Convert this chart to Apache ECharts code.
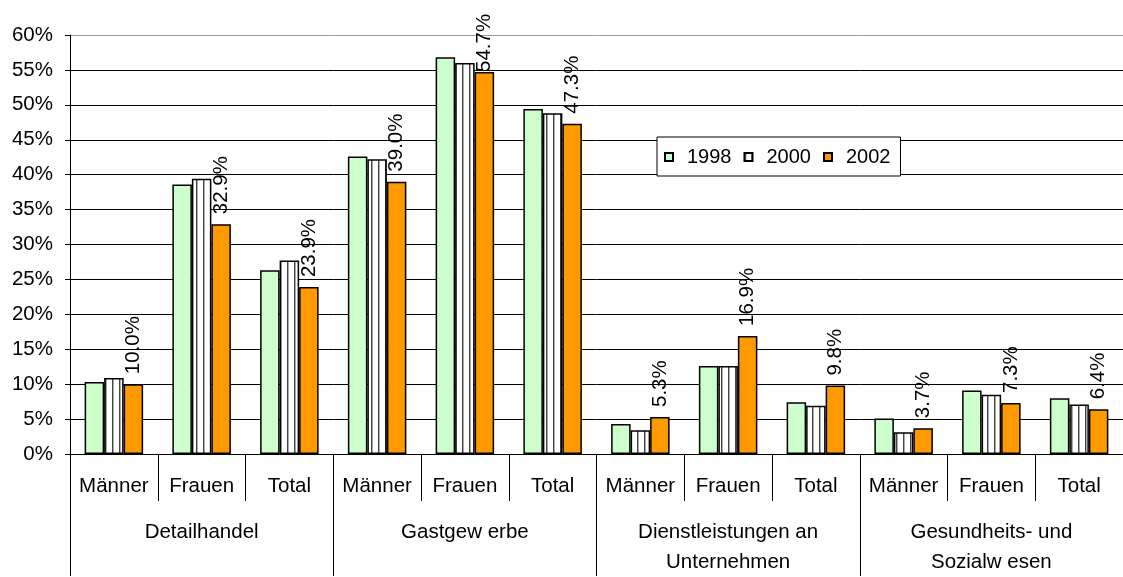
<!DOCTYPE html>
<html>
<head>
<meta charset="utf-8">
<script src="https://cdn.jsdelivr.net/npm/echarts@6/dist/echarts.min.js"></script>
<style>html,body{margin:0;padding:0;background:#fff;}#chart{width:1123px;height:577px;}</style>
</head>
<body>
<div id="chart"></div>
<script>
const subCategories = ['Männer','Frauen','Total','Männer','Frauen','Total','Männer','Frauen','Total','Männer','Frauen','Total'];
const groups = ['Detailhandel','Gastgew erbe','Dienstleistungen an\nUnternehmen','Gesundheits- und\nSozialw esen'];
const seriesNames = ['1998','2000','2002'];
const values1998 = [10.3, 38.6, 26.3, 42.6, 56.8, 49.4, 4.3, 12.6, 7.4, 5.1, 9.1, 8.0];
const values2000 = [10.9, 39.4, 27.7, 42.2, 56.0, 48.8, 3.4, 12.6, 6.9, 3.1, 8.5, 7.1];
const values2002 = [10.0, 32.9, 23.9, 39.0, 54.7, 47.3, 5.3, 16.9, 9.8, 3.7, 7.3, 6.4];
const yTicks = {min: 0, max: 60, interval: 5};

const FONT = '"Liberation Sans", Arial, sans-serif';

const pc = document.createElement('canvas');
pc.width = 7; pc.height = 7;
const pctx = pc.getContext('2d');
pctx.fillStyle = '#ffffff'; pctx.fillRect(0, 0, 7, 7);
pctx.fillStyle = '#444444'; pctx.fillRect(0, 0, 1, 7);
pctx.fillStyle = '#aaaaaa'; pctx.fillRect(1, 0, 1, 7);
const stripe = {image: pc, repeat: 'repeat'};

const splitColors = [];
for (let i = 0; i < 12; i++) splitColors.push('#000');
splitColors.push('#999');

const chart = echarts.init(document.getElementById('chart'), null, {renderer: 'canvas'});

const baseItem = {borderColor: '#000', borderWidth: 1.5};

const data2002 = values2002.map((v, i) => (v > 50 ? {value: v, label: {distance: 0}} : v));

chart.setOption({
  animation: false,
  backgroundColor: '#fff',
  textStyle: {fontFamily: FONT},
  grid: {left: 70, top: 35, width: 1067, height: 420, containLabel: false},
  legend: {
    data: seriesNames,
    icon: 'rect',
    left: 657, top: 137,
    orient: 'horizontal',
    itemWidth: 8, itemHeight: 8, itemGap: 12,
    padding: [10, 10, 9, 7],
    backgroundColor: '#fff',
    borderColor: '#000', borderWidth: 1,
    textStyle: {fontSize: 20, color: '#000', fontFamily: FONT, padding: [0, 0, 0, 9]}
  },
  xAxis: [
    {
      type: 'category', data: subCategories, position: 'bottom',
      axisLine: {show: true, lineStyle: {color: '#000', width: 1}},
      axisTick: {show: true, interval: 0, length: 47, alignWithLabel: false, lineStyle: {color: '#000'}},
      axisLabel: {interval: 0, fontSize: 20.5, color: '#000', margin: 20, lineHeight: 24, fontFamily: FONT},
      splitLine: {show: false}
    },
    {
      type: 'category', data: groups, position: 'bottom',
      axisLine: {show: false},
      axisTick: {show: true, interval: 0, length: 122, alignWithLabel: false, lineStyle: {color: '#000'}},
      axisLabel: {interval: 0, fontSize: 20.5, color: '#000', margin: 63, lineHeight: 30, verticalAlign: 'top', fontFamily: FONT},
      splitLine: {show: false}
    }
  ],
  yAxis: {
    type: 'value', min: yTicks.min, max: yTicks.max, interval: yTicks.interval,
    axisLine: {show: true, lineStyle: {color: '#000', width: 1}},
    axisTick: {show: true, length: 5, lineStyle: {color: '#000'}},
    axisLabel: {formatter: '{value}%', fontSize: 20.5, color: '#000', margin: 17, fontFamily: FONT},
    splitLine: {show: true, lineStyle: {color: splitColors, width: 1}}
  },
  series: [
    {name: '1998', type: 'bar', xAxisIndex: 0, data: values1998, barWidth: 19.5, barGap: '0%',
     itemStyle: Object.assign({color: '#CCFFCC'}, baseItem)},
    {name: '2000', type: 'bar', xAxisIndex: 0, data: values2000, barWidth: 19.5, barGap: '0%',
     itemStyle: Object.assign({color: stripe}, baseItem)},
    {name: '2002', type: 'bar', xAxisIndex: 0, data: data2002, barWidth: 19.5, barGap: '0%',
     itemStyle: Object.assign({color: '#FF9900'}, baseItem),
     label: {show: true, position: 'top', rotate: 90, align: 'left', verticalAlign: 'middle', distance: 10,
       fontSize: 20.5, color: '#000', fontFamily: FONT,
       formatter: p => p.value.toFixed(1) + '%'}}
  ]
});
</script>
</body>
</html>
